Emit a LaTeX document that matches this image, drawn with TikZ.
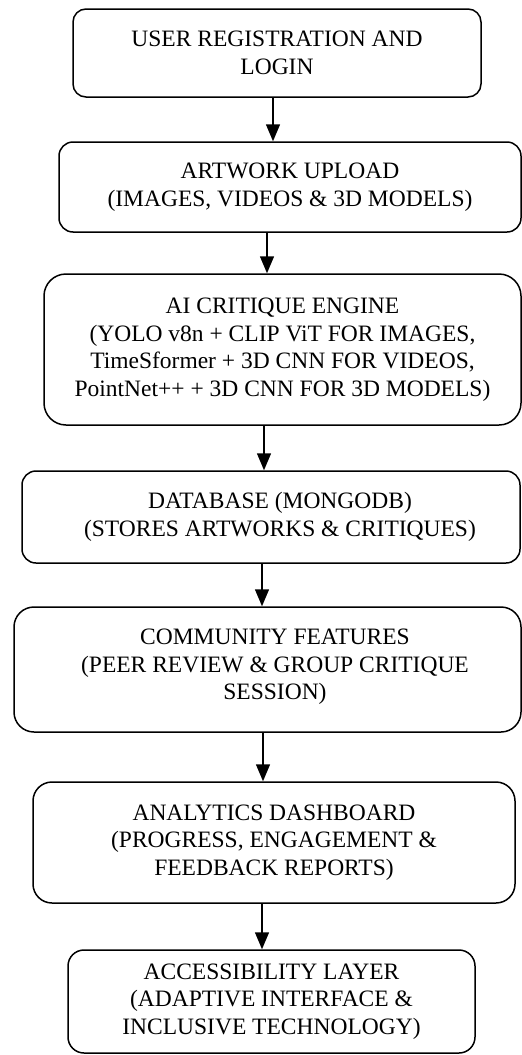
\documentclass[tikz,border=0pt]{standalone}
\usepackage{fontspec}
\setmainfont{Liberation Serif}
\usetikzlibrary{arrows.meta}
\begin{document}
\begin{tikzpicture}[x=1pt,y=-1pt,
  stagefont/.style={font=\fontsize{23.5}{27.5}\selectfont},
  stage/.style={draw, line width=1.5pt, rounded corners=#1, align=center,
    inner sep=0pt, stagefont},
  stage/.default=14pt,
  offtext/.style={align=center, inner sep=0pt, stagefont},
  flow/.style={line width=1.5pt, -{Triangle[length=17pt,width=14pt]}}]
\useasboundingbox (0,0) rectangle (522,1055);

% process stages, top to bottom
\node[stage=13pt, minimum width=408pt, minimum height=88pt] (login) at (277,53)
  {USER REGISTRATION AND\\LOGIN};
\node[stage=14pt, minimum width=462pt, minimum height=90pt] (upload) at (290,187)
  {ARTWORK UPLOAD\\(IMAGES, VIDEOS \& 3D MODELS)};
\node[stage=22pt, minimum width=477pt, minimum height=151pt] (engine) at (282.5,349.5)
  {AI CRITIQUE ENGINE\\(YOLO v8n + CLIP ViT FOR IMAGES,\\TimeSformer + 3D CNN FOR VIDEOS,\\PointNet++ + 3D CNN FOR 3D MODELS)};
\node[stage=14pt, minimum width=498pt, minimum height=92pt] (db) at (271,517) {};
\node[offtext] (dbtext) at (280,517)
  {DATABASE (MONGODB)\\(STORES ARTWORKS \& CRITIQUES)};
\node[stage=20pt, minimum width=507pt, minimum height=125pt] (community) at (267.5,669.5) {};
\node[offtext] (communitytext) at (275,667)
  {COMMUNITY FEATURES\\(PEER REVIEW \& GROUP CRITIQUE\\SESSION)};
\node[stage=19pt, minimum width=482pt, minimum height=121pt] (analytics) at (274,842.5)
  {ANALYTICS DASHBOARD\\(PROGRESS, ENGAGEMENT \&\\FEEDBACK REPORTS)};
\node[stage=16pt, minimum width=407pt, minimum height=103pt] (access) at (271.5,1001.5)
  {ACCESSIBILITY LAYER\\(ADAPTIVE INTERFACE \&\\INCLUSIVE TECHNOLOGY)};

% vertical positions of the connecting arrows
\coordinate (c1) at (273,0);
\coordinate (c2) at (267,0);
\coordinate (c3) at (264,0);
\coordinate (c4) at (262,0);
\coordinate (c5) at (263,0);
\coordinate (c6) at (262,0);

\draw[flow] (login.south -| c1) -- (upload.north -| c1);
\draw[flow] (upload.south -| c2) -- (engine.north -| c2);
\draw[flow] (engine.south -| c3) -- (db.north -| c3);
\draw[flow] (db.south -| c4) -- (community.north -| c4);
\draw[flow] (community.south -| c5) -- (analytics.north -| c5);
\draw[flow] (analytics.south -| c6) -- (access.north -| c6);
\end{tikzpicture}
\end{document}
